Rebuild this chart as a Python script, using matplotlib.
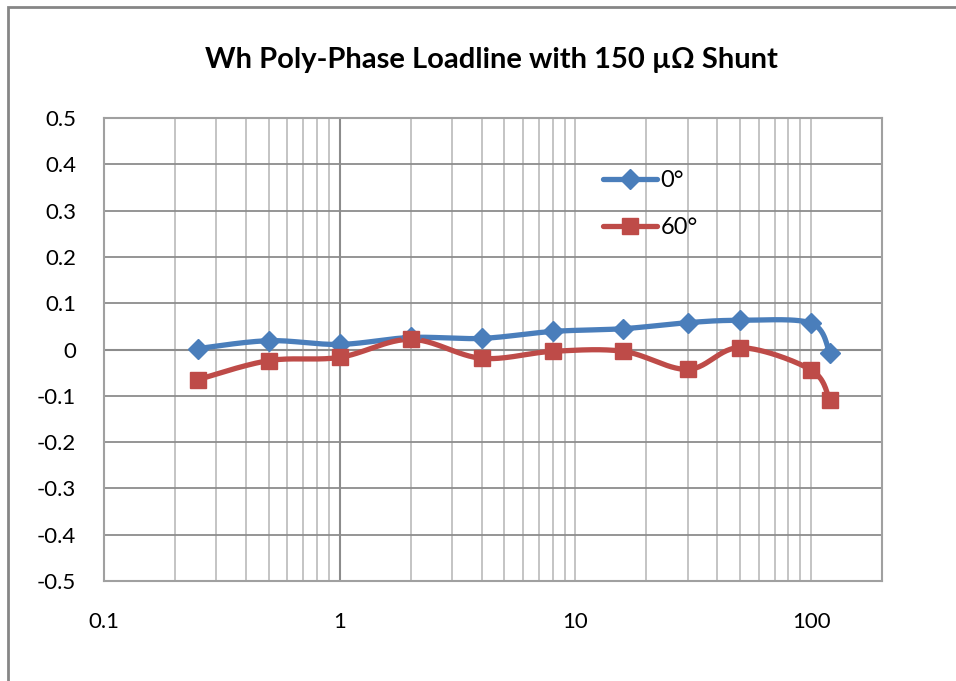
import numpy as np
import matplotlib
matplotlib.use("Agg")
import matplotlib.pyplot as plt
from matplotlib.lines import Line2D
from matplotlib.patches import Rectangle

# ---- data ----
load_current = [0.25, 0.5, 1, 2, 4, 8, 16, 30, 50, 100, 120]
err_0deg = [0.002, 0.019, 0.011, 0.026, 0.024, 0.039, 0.045, 0.058, 0.063, 0.057, -0.007]
err_60deg = [-0.065, -0.024, -0.017, 0.022, -0.019, -0.004, -0.004, -0.043, 0.004, -0.044, -0.109]
series_labels = ["0°", "60°"]
title_text = "Wh Poly-Phase Loadline with 150 µΩ Shunt"
x_ticks = [0.1, 1, 10, 100]
x_tick_labels = ["0.1", "1", "10", "100"]
y_ticks = [0.5, 0.4, 0.3, 0.2, 0.1, 0, -0.1, -0.2, -0.3, -0.4, -0.5]

W, H = 956, 681
fig = plt.figure(figsize=(W / 100, H / 100), dpi=100)
FONT = "Lato"

# outer frame
fig.patches.append(Rectangle((8 / W, -0.05), 1.2, 1 - 7 / H + 0.05, transform=fig.transFigure,
                             fill=False, edgecolor="#868686", linewidth=2.0))

L, R, T, B = 104, 882, 118, 581
ax = fig.add_axes([L / W, 1 - B / H, (R - L) / W, (B - T) / H])
ax.set_xscale("log")
ax.set_xlim(0.1, 200)
ax.set_ylim(-0.5, 0.5)

# gridlines
ax.set_axisbelow(True)
ax.set_yticks(y_ticks)
ax.yaxis.grid(True, color="#8c8c8c", linewidth=1.3)
minor_x = [m * 10.0 ** e for e in range(-1, 3) for m in range(1, 10) if 0.1 <= m * 10.0 ** e <= 200]
for xv in minor_x:
    ax.axvline(xv, color="#bfbfbf", linewidth=1.3, zorder=0.5)
ax.axvline(1, color="#8c8c8c", linewidth=1.5, zorder=0.6)
ax.axhline(0, color="#8c8c8c", linewidth=1.5, zorder=0.6)

for s in ["top", "right", "bottom", "left"]:
    ax.spines[s].set_color("#a0a0a0")
    ax.spines[s].set_linewidth(1.5)

ax.set_xticks(x_ticks)
ax.set_xticklabels([])
ax.xaxis.set_minor_locator(matplotlib.ticker.NullLocator())
ax.tick_params(axis="x", length=0)
ax.tick_params(axis="y", length=0, pad=20, colors="black")
ax.set_yticklabels([f"{v:g}" for v in y_ticks], fontfamily=FONT, fontsize=16)
for xv, lab in zip(x_ticks, x_tick_labels):
    ax.text(xv, -0.088, lab, transform=ax.get_xaxis_transform(), ha="center", va="center",
            fontsize=16, fontfamily=FONT)


def smooth(xs, ys, n=30):
    # Catmull-Rom (Excel-like) smoothing in log-x / y display-proportional space
    px = (np.log10(xs) + 1) * 235.5
    py = np.asarray(ys) * 463.0
    P = np.column_stack([px, py])
    out = []
    for i in range(len(P) - 1):
        p0 = P[i - 1] if i > 0 else P[i]
        p1, p2 = P[i], P[i + 1]
        p3 = P[i + 2] if i + 2 < len(P) else P[i + 1]
        c1 = p1 + (p2 - p0) / 6.0
        c2 = p2 - (p3 - p1) / 6.0
        t = np.linspace(0, 1, n)[:, None]
        seg = (1 - t) ** 3 * p1 + 3 * (1 - t) ** 2 * t * c1 + 3 * (1 - t) * t ** 2 * c2 + t ** 3 * p2
        out.append(seg if i == 0 else seg[1:])
    S = np.vstack(out)
    return 10 ** (S[:, 0] / 235.5 - 1), S[:, 1] / 463.0


blue = "#4a7ebb"
red = "#be4b48"
bx, by = smooth(load_current, err_0deg)
rx, ry = smooth(load_current, err_60deg)
ax.plot(bx, by, color=blue, linewidth=3.8, solid_capstyle="round", zorder=3)
ax.plot(load_current, err_0deg, linestyle="none", marker="D", markersize=10.5,
        color=blue, markeredgecolor=blue, zorder=4)
ax.plot(rx, ry, color=red, linewidth=3.8, solid_capstyle="round", zorder=3)
ax.plot(load_current, err_60deg, linestyle="none", marker="s", markersize=12,
        color=red, markeredgecolor=red, zorder=4)

handles = [
    Line2D([], [], color=blue, linewidth=3.8, marker="D", markersize=10.5, solid_capstyle="round"),
    Line2D([], [], color=red, linewidth=3.8, marker="s", markersize=12, solid_capstyle="round"),
]
leg = ax.legend(handles, series_labels, loc="center left", bbox_to_anchor=(0.641, 0.814),
                frameon=False, prop={"family": FONT, "size": 17}, handlelength=2.3,
                handletextpad=0.15, labelspacing=1.12, borderpad=0, borderaxespad=0)

fig.text(491 / W, 1 - 60 / H, title_text, ha="center", va="center",
         fontsize=21, fontweight="bold", fontfamily=FONT)

fig.savefig("out.png", dpi=100)
